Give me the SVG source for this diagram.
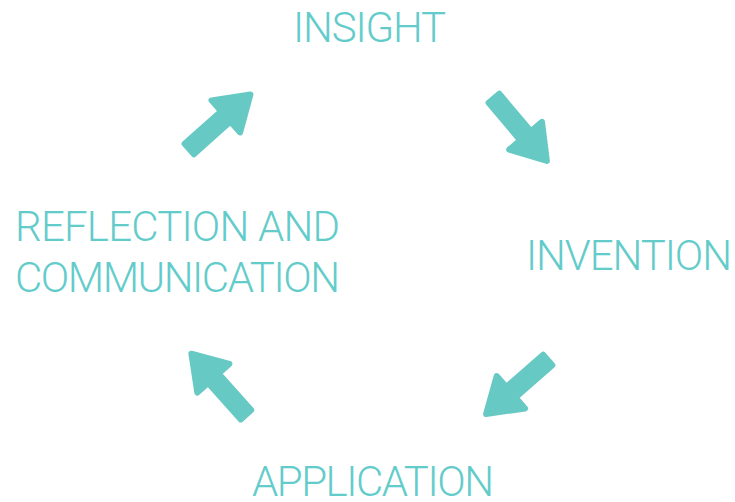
<svg xmlns="http://www.w3.org/2000/svg" xmlns:xlink="http://www.w3.org/1999/xlink" width="735" height="502" viewBox="0 0 735 502">
<style>
.lbl{font-family:Roboto,"Liberation Sans",sans-serif;font-weight:300;font-size:42px;fill:#63CCCB}
.arr{fill:#67C9C4;stroke:#67C9C4;stroke-width:6;stroke-linejoin:round}
</style>
<defs>
<path id="arrow" d="M3,-7 L52,-7 L52,-21.5 L85,0 L52,21.5 L52,7 L3,7 Z"/>
</defs>
<rect width="735" height="502" fill="#FFFFFF"/>
<g id="connectors">
<use xlink:href="#arrow" class="arr" transform="translate(187,151) rotate(-41.7)"/>
<use xlink:href="#arrow" class="arr" transform="translate(492,96) rotate(49.8)"/>
<use xlink:href="#arrow" class="arr" transform="translate(550,358) rotate(138.8)"/>
<use xlink:href="#arrow" class="arr" transform="translate(248,417) rotate(-131.8)"/>
</g>
<g id="insight"><text class="lbl" x="293" y="42" textLength="153">INSIGHT</text></g>
<g id="invention"><text class="lbl" x="526" y="270" textLength="206">INVENTION</text></g>
<g id="application"><text class="lbl" x="252" y="496" textLength="242">APPLICATION</text></g>
<g id="reflection"><text class="lbl" x="15" y="241" textLength="325">REFLECTION AND</text><text class="lbl" x="15" y="292" textLength="325">COMMUNICATION</text></g>
</svg>
